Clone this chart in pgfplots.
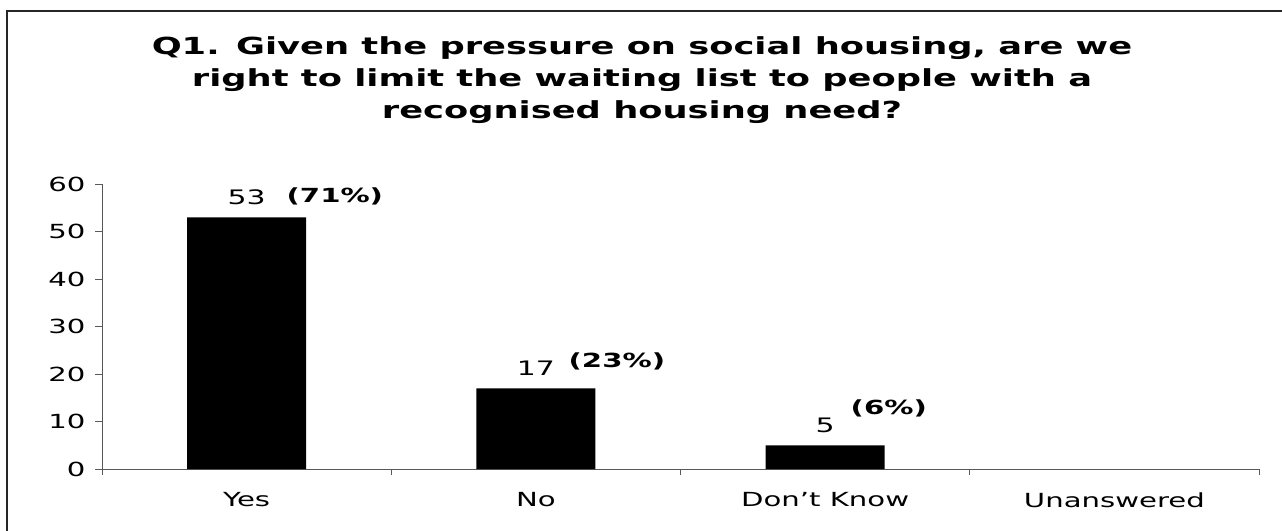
\documentclass[border=0pt]{standalone}
\usepackage{fontspec}
\setmainfont{DejaVu Sans}[FakeStretch=1.5]
\usepackage{pgfplots}
\pgfplotsset{compat=1.18}
\begin{document}
\begin{tikzpicture}[x=1bp,y=1bp]
\useasboundingbox (0,0) rectangle (1282,-531);
\draw[line width=1.5bp, black!85] (7,-540) -- (7,-11) -- (1290,-11);
\node[anchor=north, inner sep=0, align=center, font=\fontsize{23.6}{32.5}\selectfont\bfseries] at (642,-36)
  {Q1. Given the pressure on social housing, are we\\right to limit the waiting list to people with a\\recognised housing need?};
\begin{axis}[
  at={(102bp,-469bp)}, anchor=south west,
  scale only axis, width=1157bp, height=285bp,
  xmin=0, xmax=4, ymin=0, ymax=60,
  axis x line=bottom, axis y line=left,
  axis line style={-, draw=black!65, line width=0.8bp},
  ybar, bar width=119bp, bar shift=0pt,
  xtick={0.5,1.5,2.5,3.5},
  xticklabels={Yes,No,Don’t Know,Unanswered},
  minor xtick={0,1,2,3,4},
  ytick={0,10,...,60},
  tick align=outside,
  major tick length=7bp, minor tick length=6bp,
  major x tick style={draw=none},
  tick style={black!65, line width=0.8bp},
  /pgf/number format/assume math mode=true,
  ticklabel style={font=\fontsize{19.5}{23}\selectfont},
  xticklabel style={yshift=-13bp},
  yticklabel style={xshift=-6bp},
  nodes near coords,
  every node near coord/.append style={font=\fontsize{20}{23}\selectfont, anchor=base, yshift=13bp, black},
  clip=false,
]
\addplot[fill=black, draw=none] coordinates {(0.5,53) (1.5,17) (2.5,5)};
\node[font=\fontsize{19.5}{23}\selectfont\bfseries] at (axis cs:0.805,57.3) {(71\%)};
\node[font=\fontsize{19.5}{23}\selectfont\bfseries] at (axis cs:1.78,22.7) {(23\%)};
\node[font=\fontsize{19.5}{23}\selectfont\bfseries] at (axis cs:2.72,12.8) {(6\%)};
\end{axis}
\end{tikzpicture}
\end{document}
